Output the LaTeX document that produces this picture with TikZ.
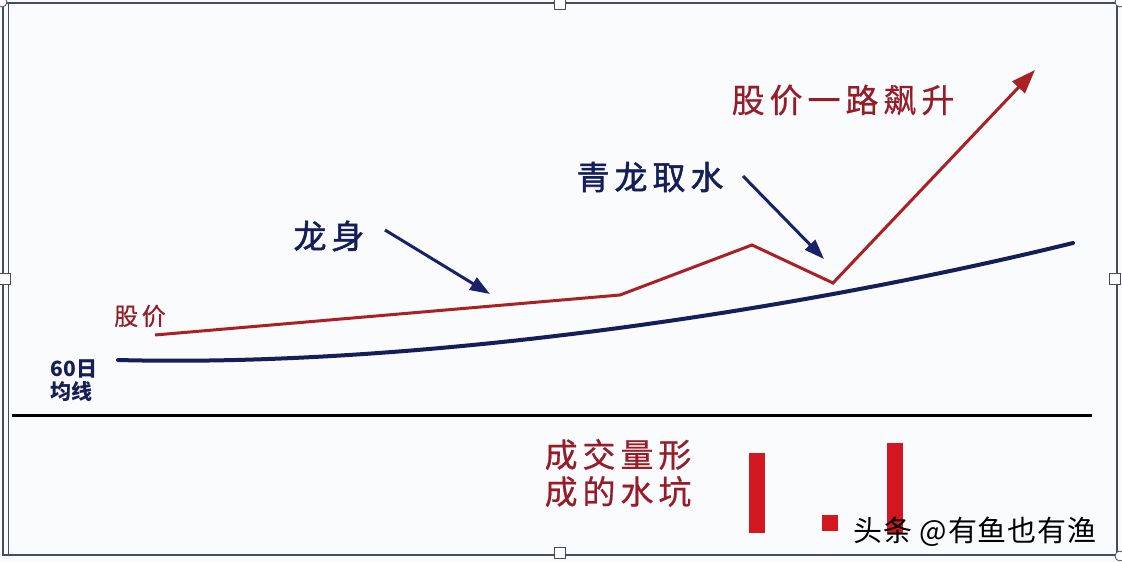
\documentclass[tikz,border=0pt]{standalone}
\usepackage{fontspec}
\newfontfamily\cjk{Noto Sans CJK SC}
\newfontfamily\cjksp[LetterSpace=15,FakeBold=0.6]{Noto Sans CJK SC}
\newfontfamily\cjkspb[LetterSpace=15,FakeBold=1.6]{Noto Sans CJK SC}
\newfontfamily\cjkwm[LetterSpace=3]{Noto Sans CJK SC}
\usetikzlibrary{arrows.meta}
\definecolor{bg}{RGB}{250,251,253}
\definecolor{pricered}{RGB}{170,32,36}
\definecolor{textred}{RGB}{150,28,40}
\definecolor{navy}{RGB}{22,30,88}
\definecolor{arrowblue}{RGB}{28,32,105}
\definecolor{barred}{RGB}{212,22,32}
\definecolor{framegray}{RGB}{70,75,95}
\begin{document}
\begin{tikzpicture}[x=1pt,y=-1pt,
  lbl/.style={font=\cjksp\fontsize{33}{37}\selectfont, inner sep=0pt, align=left},
  lblbold/.style={font=\cjkspb\fontsize{33}{37}\selectfont, inner sep=0pt, align=left},
  smalllbl/.style={font=\cjksp\fontsize{24}{24}\selectfont, inner sep=0pt},
  tinylbl/.style={font=\cjk\fontsize{21}{23}\selectfont\bfseries, inner sep=0pt, align=left},
  pointer/.style={draw=arrowblue, line width=3pt, -{Triangle[length=20pt,width=14pt]}},
  handle/.style={draw=framegray, fill=white, line width=0.8pt, minimum size=11pt, inner sep=0pt},
  cornerhandle/.style={draw=framegray, fill=white, circle, line width=0.8pt, minimum size=10pt, inner sep=0pt},
  bar/.style={fill=barred, draw=none}]
\fill[bg] (0,0) rectangle (1122,562);
\useasboundingbox (0,0) rectangle (1122,562);
% frame
\draw[framegray, line width=1.6pt] (3,3) -- (1117,3) -- (1117,555) -- (3,555) -- cycle;
\draw[framegray, line width=0.8pt] (8,3) -- (8,555);
\node[handle] (ht) at (560,4) {};
\node[handle] (hb) at (560,553) {};
\node[handle] (hl) at (5,279) {};
\node[handle] (hr) at (1115,279) {};
\node[cornerhandle] (c1) at (2,2) {};
\node[cornerhandle] (c2) at (1120,2) {};
\node[cornerhandle] (c3) at (1120,556) {};
% baseline
\coordinate (b1) at (12,415);
\coordinate (b2) at (1092,415);
\draw[black, line width=3pt] (b1) -- (b2);
% 60 day MA
\coordinate (m0) at (118,360);
\coordinate (m1) at (1073,243);
\draw[navy, line width=4pt, line cap=round] (m0) .. controls (420,368) and (800,310) .. (m1);
% price
\coordinate (p0) at (155,335);
\coordinate (p1) at (620,295);
\coordinate (p2) at (752,245);
\coordinate (p3) at (833,283);
\coordinate (p4) at (1035,70);
\draw[pricered, line width=3pt, line join=miter, -{Triangle[length=24pt,width=17pt]}] (p0) -- (p1) -- (p2) -- (p3) -- (p4);
% labels
\node[lblbold, text=navy] (lshen) at (329,236) {龙身};
\node[lblbold, text=navy] (lqing) at (650,177) {青龙取水};
\node[lbl, text=textred] (lup) at (843,100) {股价一路飙升};
\node[smalllbl, text=textred] (lprice) at (140,316) {股价};
\node[tinylbl, text=navy] (lma) at (74,381) {60日\\均线};
\node[lbl, text=textred] (lvol) at (618,473) {成交量形\\成的水坑};
% pointers
\coordinate (a1s) at (385,230);
\coordinate (a1e) at (490,294);
\draw[pointer] (a1s) -- (a1e);
\coordinate (a2s) at (743,176);
\coordinate (a2e) at (824,259);
\draw[pointer] (a2s) -- (a2e);
% volume bars
\fill[bar] (749,453) rectangle (765,533);
\fill[bar] (822,515) rectangle (838,531);
\fill[bar] (887,443) rectangle (903,533);
% watermark
\node[font=\cjkwm\fontsize{29}{29}\selectfont, text=black, inner sep=0pt] (wm) at (975,532) {头条 @有鱼也有渔};
\end{tikzpicture}
\end{document}
